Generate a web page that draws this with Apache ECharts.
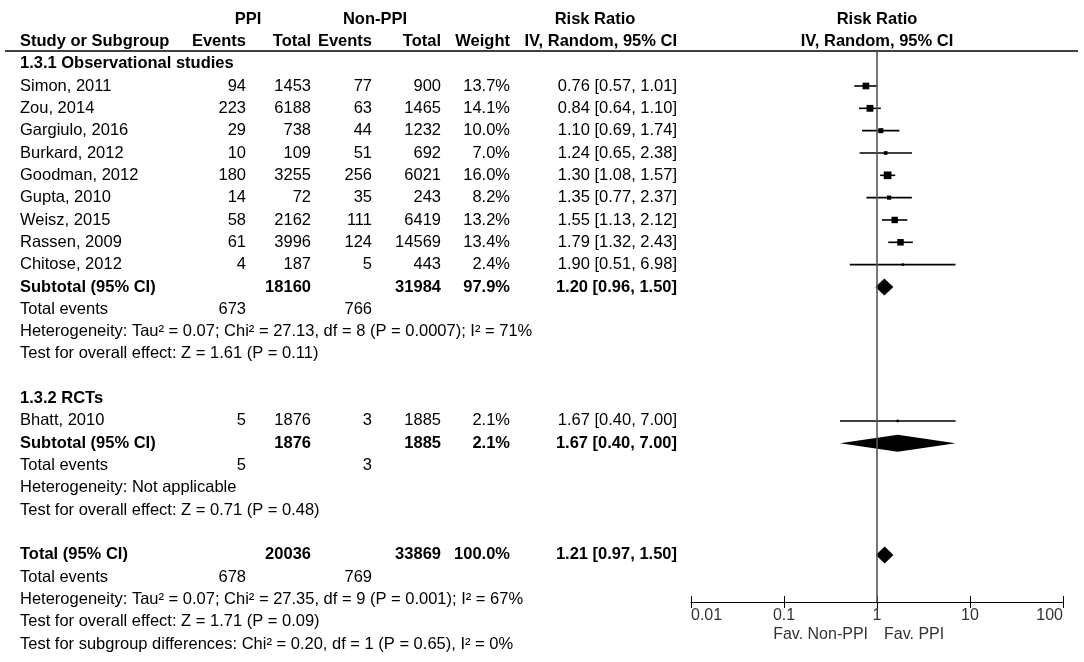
<!DOCTYPE html>
<html><head><meta charset="utf-8">
<script src="https://cdn.jsdelivr.net/npm/echarts@6/dist/echarts.min.js"></script>
<style>html,body{margin:0;padding:0;background:#fff}#c{width:1084px;height:662px}</style>
</head><body><div id="c"></div>
<script>
// ---------- data ----------
const obsStudies   = ['Simon, 2011','Zou, 2014','Gargiulo, 2016','Burkard, 2012','Goodman, 2012','Gupta, 2010','Weisz, 2015','Rassen, 2009','Chitose, 2012'];
const obsPpiEvents = [94, 223, 29, 10, 180, 14, 58, 61, 4];
const obsPpiTotal  = [1453, 6188, 738, 109, 3255, 72, 2162, 3996, 187];
const obsNonEvents = [77, 63, 44, 51, 256, 35, 111, 124, 5];
const obsNonTotal  = [900, 1465, 1232, 692, 6021, 243, 6419, 14569, 443];
const obsWeight    = [13.7, 14.1, 10.0, 7.0, 16.0, 8.2, 13.2, 13.4, 2.4];
const obsRR        = [0.76, 0.84, 1.10, 1.24, 1.30, 1.35, 1.55, 1.79, 1.90];
const obsLow       = [0.57, 0.64, 0.69, 0.65, 1.08, 0.77, 1.13, 1.32, 0.51];
const obsHigh      = [1.01, 1.10, 1.74, 2.38, 1.57, 2.37, 2.12, 2.43, 6.98];

const rctStudies   = ['Bhatt, 2010'];
const rctPpiEvents = [5];
const rctPpiTotal  = [1876];
const rctNonEvents = [3];
const rctNonTotal  = [1885];
const rctWeight    = [2.1];
const rctRR        = [1.67];
const rctLow       = [0.40];
const rctHigh      = [7.00];

// summary rows: [ppiTotal, nonTotal, weight, rr, low, high, ppiEvents, nonEvents]
const obsSubtotal   = [18160, 31984, 97.9, 1.20, 0.96, 1.50, 673, 766];
const rctSubtotal   = [1876, 1885, 2.1, 1.67, 0.40, 7.00, 5, 3];
const overallTotal  = [20036, 33869, 100.0, 1.21, 0.97, 1.50, 678, 769];

const obsHetText  = 'Heterogeneity: Tau² = 0.07; Chi² = 27.13, df = 8 (P = 0.0007); I² = 71%';
const obsTestText = 'Test for overall effect: Z = 1.61 (P = 0.11)';
const rctHetText  = 'Heterogeneity: Not applicable';
const rctTestText = 'Test for overall effect: Z = 0.71 (P = 0.48)';
const totHetText  = 'Heterogeneity: Tau² = 0.07; Chi² = 27.35, df = 9 (P = 0.001); I² = 67%';
const totTestText = 'Test for overall effect: Z = 1.71 (P = 0.09)';
const subgroupText = 'Test for subgroup differences: Chi² = 0.20, df = 1 (P = 0.65), I² = 0%';

const axisTicks = [0.01, 0.1, 1, 10, 100];

// ---------- layout ----------
const W = 1084, H = 662;
const ROW0 = 19, ROW_H = 22.33;
const COL = {name: 20, ppiE: 246, ppiT: 311, nonE: 372, nonT: 441, wt: 510, ci: 677};
const PLOT = {left: 691, right: 21, top: 51, axisY: 602};
const FONT = "'Liberation Sans', Arial, sans-serif";
const FS = 16.5;

const f2 = v => v.toFixed(2);
const ciText = (rr, lo, hi) => `${f2(rr)} [${f2(lo)}, ${f2(hi)}]`;
const wText = w => w.toFixed(1) + '%';

// ---------- build table cells ----------
const cells = []; // [x, row, text, align, bold]
function cell(x, row, text, align, bold) { cells.push([x, row, String(text), align, bold ? 1 : 0]); }

// headers
cell(248, 0, 'PPI', 'center', 1);
cell(375, 0, 'Non-PPI', 'center', 1);
cell(595, 0, 'Risk Ratio', 'center', 1);
cell(COL.name, 1, 'Study or Subgroup', 'left', 1);
cell(COL.ppiE, 1, 'Events', 'right', 1);
cell(COL.ppiT, 1, 'Total', 'right', 1);
cell(COL.nonE, 1, 'Events', 'right', 1);
cell(COL.nonT, 1, 'Total', 'right', 1);
cell(COL.wt, 1, 'Weight', 'right', 1);
cell(COL.ci, 1, 'IV, Random, 95% CI', 'right', 1);

const forestPts = [];  // [rr, lo, hi, row, weight]
const diamonds = [];   // [rr, lo, hi, row]

function studyRow(row, name, pe, pt, ne, nt, w, rr, lo, hi) {
  cell(COL.name, row, name, 'left', 0);
  cell(COL.ppiE, row, pe, 'right', 0);
  cell(COL.ppiT, row, pt, 'right', 0);
  cell(COL.nonE, row, ne, 'right', 0);
  cell(COL.nonT, row, nt, 'right', 0);
  cell(COL.wt, row, wText(w), 'right', 0);
  cell(COL.ci, row, ciText(rr, lo, hi), 'right', 0);
  forestPts.push([rr, lo, hi, row, w]);
}
function summaryRow(row, label, s) {
  cell(COL.name, row, label, 'left', 1);
  cell(COL.ppiT, row, s[0], 'right', 1);
  cell(COL.nonT, row, s[1], 'right', 1);
  cell(COL.wt, row, wText(s[2]), 'right', 1);
  cell(COL.ci, row, ciText(s[3], s[4], s[5]), 'right', 1);
  diamonds.push([s[3], s[4], s[5], row]);
  cell(COL.name, row + 1, 'Total events', 'left', 0);
  cell(COL.ppiE, row + 1, s[6], 'right', 0);
  cell(COL.nonE, row + 1, s[7], 'right', 0);
}

let r = 2;
cell(COL.name, r++, '1.3.1 Observational studies', 'left', 1);
obsStudies.forEach((n, i) => studyRow(r++, n, obsPpiEvents[i], obsPpiTotal[i], obsNonEvents[i], obsNonTotal[i], obsWeight[i], obsRR[i], obsLow[i], obsHigh[i]));
summaryRow(r, 'Subtotal (95% CI)', obsSubtotal); r += 2;
cell(COL.name, r++, obsHetText, 'left', 0);
cell(COL.name, r++, obsTestText, 'left', 0);
r++;
cell(COL.name, r++, '1.3.2 RCTs', 'left', 1);
rctStudies.forEach((n, i) => studyRow(r++, n, rctPpiEvents[i], rctPpiTotal[i], rctNonEvents[i], rctNonTotal[i], rctWeight[i], rctRR[i], rctLow[i], rctHigh[i]));
summaryRow(r, 'Subtotal (95% CI)', rctSubtotal); r += 2;
cell(COL.name, r++, rctHetText, 'left', 0);
cell(COL.name, r++, rctTestText, 'left', 0);
r++;
summaryRow(r, 'Total (95% CI)', overallTotal); r += 2;
cell(COL.name, r++, totHetText, 'left', 0);
cell(COL.name, r++, totTestText, 'left', 0);
cell(COL.name, r++, subgroupText, 'left', 0);

// plot header / footer texts (x in RR units, row index)
const favRow = (635 - ROW0) / ROW_H;
const plotTexts = [
  [1, 0, 'Risk Ratio', 'center', 1, 0, '#000', FS],
  [1, 1, 'IV, Random, 95% CI', 'center', 1, 0, '#000', FS],
  [1, favRow, 'Fav. Non-PPI', 'right', 0, -9, '#333', 16],
  [1, favRow, 'Fav. PPI', 'left', 0, 7, '#333', 16]
];

// ---------- chart ----------
const chart = echarts.init(document.getElementById('c'), null, {renderer: 'canvas'});
const rowMin = -ROW0 / ROW_H, rowMax = (H - ROW0) / ROW_H;
const pMin = (PLOT.top - ROW0) / ROW_H, pMax = (PLOT.axisY - ROW0) / ROW_H;

const textItem = (x, y, text, align, bold, color, size) => ({
  type: 'text', x: x, y: y,
  style: {text: text, align: align, verticalAlign: 'middle', fill: color,
          font: (bold ? 'bold ' : '') + size + 'px ' + FONT}
});

chart.setOption({
  animation: false,
  grid: [
    {left: 0, right: 0, top: 0, bottom: 0},
    {left: PLOT.left, right: PLOT.right, top: PLOT.top, bottom: H - PLOT.axisY}
  ],
  xAxis: [
    {gridIndex: 0, type: 'value', min: 0, max: W, show: false},
    {gridIndex: 1, type: 'log', logBase: 10, min: axisTicks[0], max: axisTicks[axisTicks.length - 1], position: 'bottom',
     axisLine: {show: true, onZero: false, lineStyle: {color: '#000', width: 1}},
     axisTick: {show: true, length: 6, lineStyle: {color: '#000', width: 1}},
     axisLabel: {show: true, color: '#333', fontSize: 16, fontFamily: FONT, margin: 6,
                 alignMinLabel: 'left', alignMaxLabel: 'right',
                 formatter: v => String(+v.toPrecision(6))},
     splitLine: {show: false}},
    {gridIndex: 1, type: 'log', logBase: 10, min: axisTicks[0], max: axisTicks[axisTicks.length - 1], position: 'bottom',
     axisLine: {show: false}, axisTick: {show: true, inside: true, length: 6, lineStyle: {color: '#000', width: 1}},
     axisLabel: {show: false}, splitLine: {show: false}}
  ],
  yAxis: [
    {gridIndex: 0, type: 'value', inverse: true, min: rowMin, max: rowMax, show: false},
    {gridIndex: 1, type: 'value', inverse: true, min: pMin, max: pMax, show: false}
  ],
  graphic: [{type: 'line', shape: {x1: 5, y1: PLOT.top, x2: 1078, y2: PLOT.top}, style: {stroke: '#000', lineWidth: 1.6}}],
  series: [
    {
      type: 'custom', name: 'table', xAxisIndex: 0, yAxisIndex: 0,
      data: cells.map(c => [c[0], c[1]]),
      renderItem: (params, api) => {
        const c = cells[params.dataIndex];
        const p = api.coord([api.value(0), api.value(1)]);
        return textItem(p[0], p[1], c[2], c[3], c[4], '#000', FS);
      }
    },
    {
      type: 'custom', name: 'studies', xAxisIndex: 1, yAxisIndex: 1, clip: false,
      data: forestPts,
      renderItem: (params, api) => {
        const pc = api.coord([api.value(0), api.value(3)]);
        const pl = api.coord([api.value(1), api.value(3)]);
        const ph = api.coord([api.value(2), api.value(3)]);
        const s = Math.max(2.5, 0.45 * api.value(4) + 0.5);
        return {type: 'group', children: [
          {type: 'line', shape: {x1: pl[0], y1: pl[1], x2: ph[0], y2: ph[1]}, style: {stroke: '#000', lineWidth: 1.6}},
          {type: 'rect', shape: {x: pc[0] - s / 2, y: pc[1] - s / 2, width: s, height: s}, style: {fill: '#000'}}
        ]};
      },
      markLine: {silent: true, symbol: 'none', label: {show: false},
                 lineStyle: {color: '#555', width: 1.6, type: 'solid'}, data: [{xAxis: 1}]}
    },
    {
      type: 'custom', name: 'diamonds', xAxisIndex: 1, yAxisIndex: 1, clip: false,
      data: diamonds,
      renderItem: (params, api) => {
        const pc = api.coord([api.value(0), api.value(3)]);
        const pl = api.coord([api.value(1), api.value(3)]);
        const ph = api.coord([api.value(2), api.value(3)]);
        const h = 8.5;
        return {type: 'polygon', shape: {points: [[pl[0], pc[1]], [pc[0], pc[1] - h], [ph[0], pc[1]], [pc[0], pc[1] + h]]},
                style: {fill: '#000'}};
      }
    },
    {
      type: 'custom', name: 'plotText', xAxisIndex: 1, yAxisIndex: 1, clip: false,
      data: plotTexts.map(t => [t[0], t[1]]),
      renderItem: (params, api) => {
        const t = plotTexts[params.dataIndex];
        const p = api.coord([api.value(0), api.value(1)]);
        return textItem(p[0] + t[5], p[1], t[2], t[3], t[4], t[6], t[7]);
      }
    }
  ]
});
</script>
</body></html>
